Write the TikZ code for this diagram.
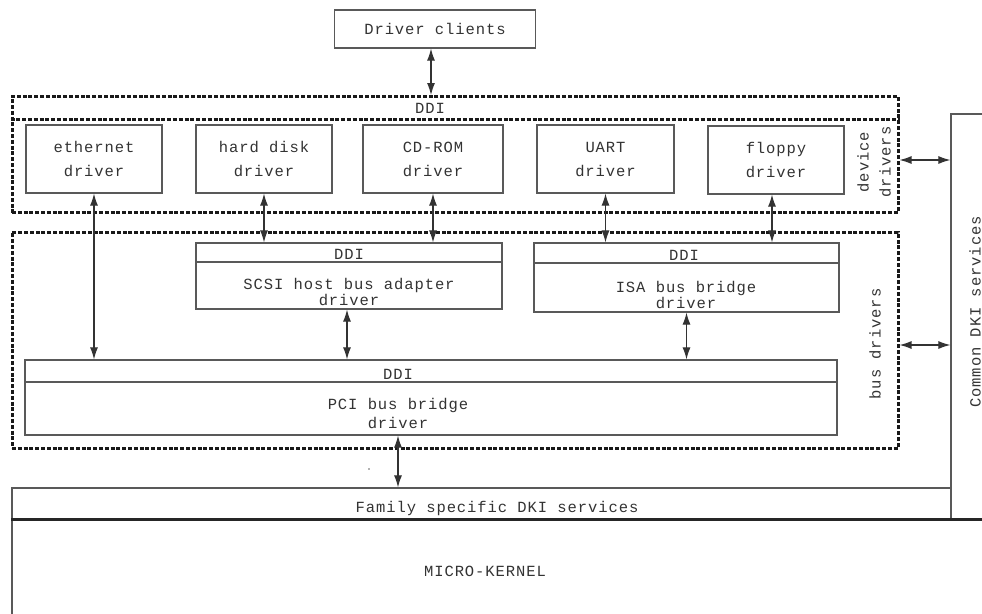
\documentclass[tikz,border=0pt]{standalone}
\usepackage{fontspec}
\newfontfamily\diagmono[LetterSpace=6]{Liberation Mono}
\usetikzlibrary{arrows.meta}
\begin{document}
\begin{tikzpicture}[x=1pt,y=-1pt,
  box/.style={draw=black!65, line width=1.2pt, inner sep=0pt},
  grp/.style={draw=black!90, line width=3pt, dash pattern=on 4pt off 1.8pt, inner sep=0pt},
  lbl/.style={font=\fontsize{15.5}{20}\selectfont\diagmono, text=black!80, align=center, inner sep=0pt},
  dbox/.style={box, lbl, minimum width=136pt, minimum height=68pt},
  biarrow/.style={draw=black!80, line width=1.1pt, {Latex[length=12pt,width=8pt]}-{Latex[length=12pt,width=8pt]}},
]
\useasboundingbox (0,0) rectangle (982,613);

% driver clients
\node[box, lbl, minimum width=201pt, minimum height=38pt] (dc) at (435,29) {Driver clients};

% device drivers group
\node[grp, minimum width=886pt, minimum height=116pt] (dev) at (455,154.5) {};
\draw[grp] (dev.west |- 0,119) -- (dev.east |- 0,119);
\node[lbl] (devddi) at (430,108) {DDI};
\node[lbl, rotate=90] (devlbl) at (874,162) {device\\[2pt]drivers};

\node[dbox] (eth) at (94,159) {ethernet\\[4pt]driver};
\node[dbox] (hd) at (264,159) {hard disk\\[4pt]driver};
\node[dbox, minimum width=140pt] (cd) at (433,159) {CD-ROM\\[4pt]driver};
\node[dbox, minimum width=137pt] (uart) at (605.5,159) {UART\\[4pt]driver};
\node[dbox] (fl) at (776,160) {floppy\\[4pt]driver};

% bus drivers group
\node[grp, minimum width=886pt, minimum height=216pt] (bus) at (455,340) {};
\node[lbl, rotate=90] (buslbl) at (875,344) {bus drivers};

% SCSI
\node[box, minimum width=306pt, minimum height=66pt] (scsi) at (349,276) {};
\draw[box] (scsi.west |- 0,262) -- (scsi.east |- 0,262);
\node[lbl] (scsiddi) at (349,254) {DDI};
\node[lbl] (scsitxt) at (349,292) {SCSI host bus adapter\\[-4pt]driver};

% ISA
\node[box, minimum width=305pt, minimum height=69pt] (isa) at (686.5,277.5) {};
\draw[box] (isa.west |- 0,263) -- (isa.east |- 0,263);
\node[lbl] (isaddi) at (684,255) {DDI};
\node[lbl] (isatxt) at (686,295) {ISA bus bridge\\[-4pt]driver};

% PCI
\node[box, minimum width=812pt, minimum height=75pt] (pci) at (431,397.5) {};
\draw[box] (pci.west |- 0,382) -- (pci.east |- 0,382);
\node[lbl] (pciddi) at (398,374) {DDI};
\node[lbl] (pcitxt) at (398,413) {PCI bus bridge\\[-1pt]driver};

% common DKI services
\node[box, minimum width=62pt, minimum height=406pt] (cdki) at (982,317) {};
\node[lbl, rotate=90] (cdkilbl) at (975,312) {Common DKI services};

% family specific
\node[box, minimum width=939pt, minimum height=32pt] (fam) at (481.5,504) {};
\node[lbl] (famlbl) at (497,508) {Family specific DKI services};

% micro-kernel
\node[box, minimum width=1000pt, minimum height=120pt] (mk) at (512,580) {};
\draw[line width=2.2pt, black!85] (mk.north west) -- (mk.north east);
\node[lbl] (mklbl) at (485,571) {MICRO-KERNEL};

% connectors
\coordinate (dca) at ([xshift=-4pt]dc.south);
\draw[biarrow] (dca) -- (dca |- dev.north);
\draw[biarrow] (eth.south) -- (eth.south |- pci.north);
\draw[biarrow] (hd.south) -- (hd.south |- scsi.north);
\draw[biarrow] (cd.south) -- (cd.south |- scsi.north);
\draw[biarrow] (uart.south) -- (uart.south |- isa.north);
\coordinate (fla) at ([xshift=-4pt]fl.south);
\draw[biarrow] (fla) -- (fla |- isa.north);
\coordinate (scsia) at ([xshift=-2pt]scsi.south);
\draw[biarrow] (scsia) -- (scsia |- pci.north);
\draw[biarrow] (isa.south) -- (isa.south |- pci.north);
\coordinate (pcia) at ([xshift=-33pt]pci.south);
\draw[biarrow] (pcia) -- (pcia |- fam.north);
\coordinate (deva) at (dev.east |- 0,160);
\draw[biarrow] (deva) -- (deva -| cdki.west);
\coordinate (busa) at (bus.east |- 0,345);
\draw[biarrow] (busa) -- (busa -| cdki.west);

\fill[black!60] (369,469) circle (0.8pt);
\end{tikzpicture}
\end{document}
